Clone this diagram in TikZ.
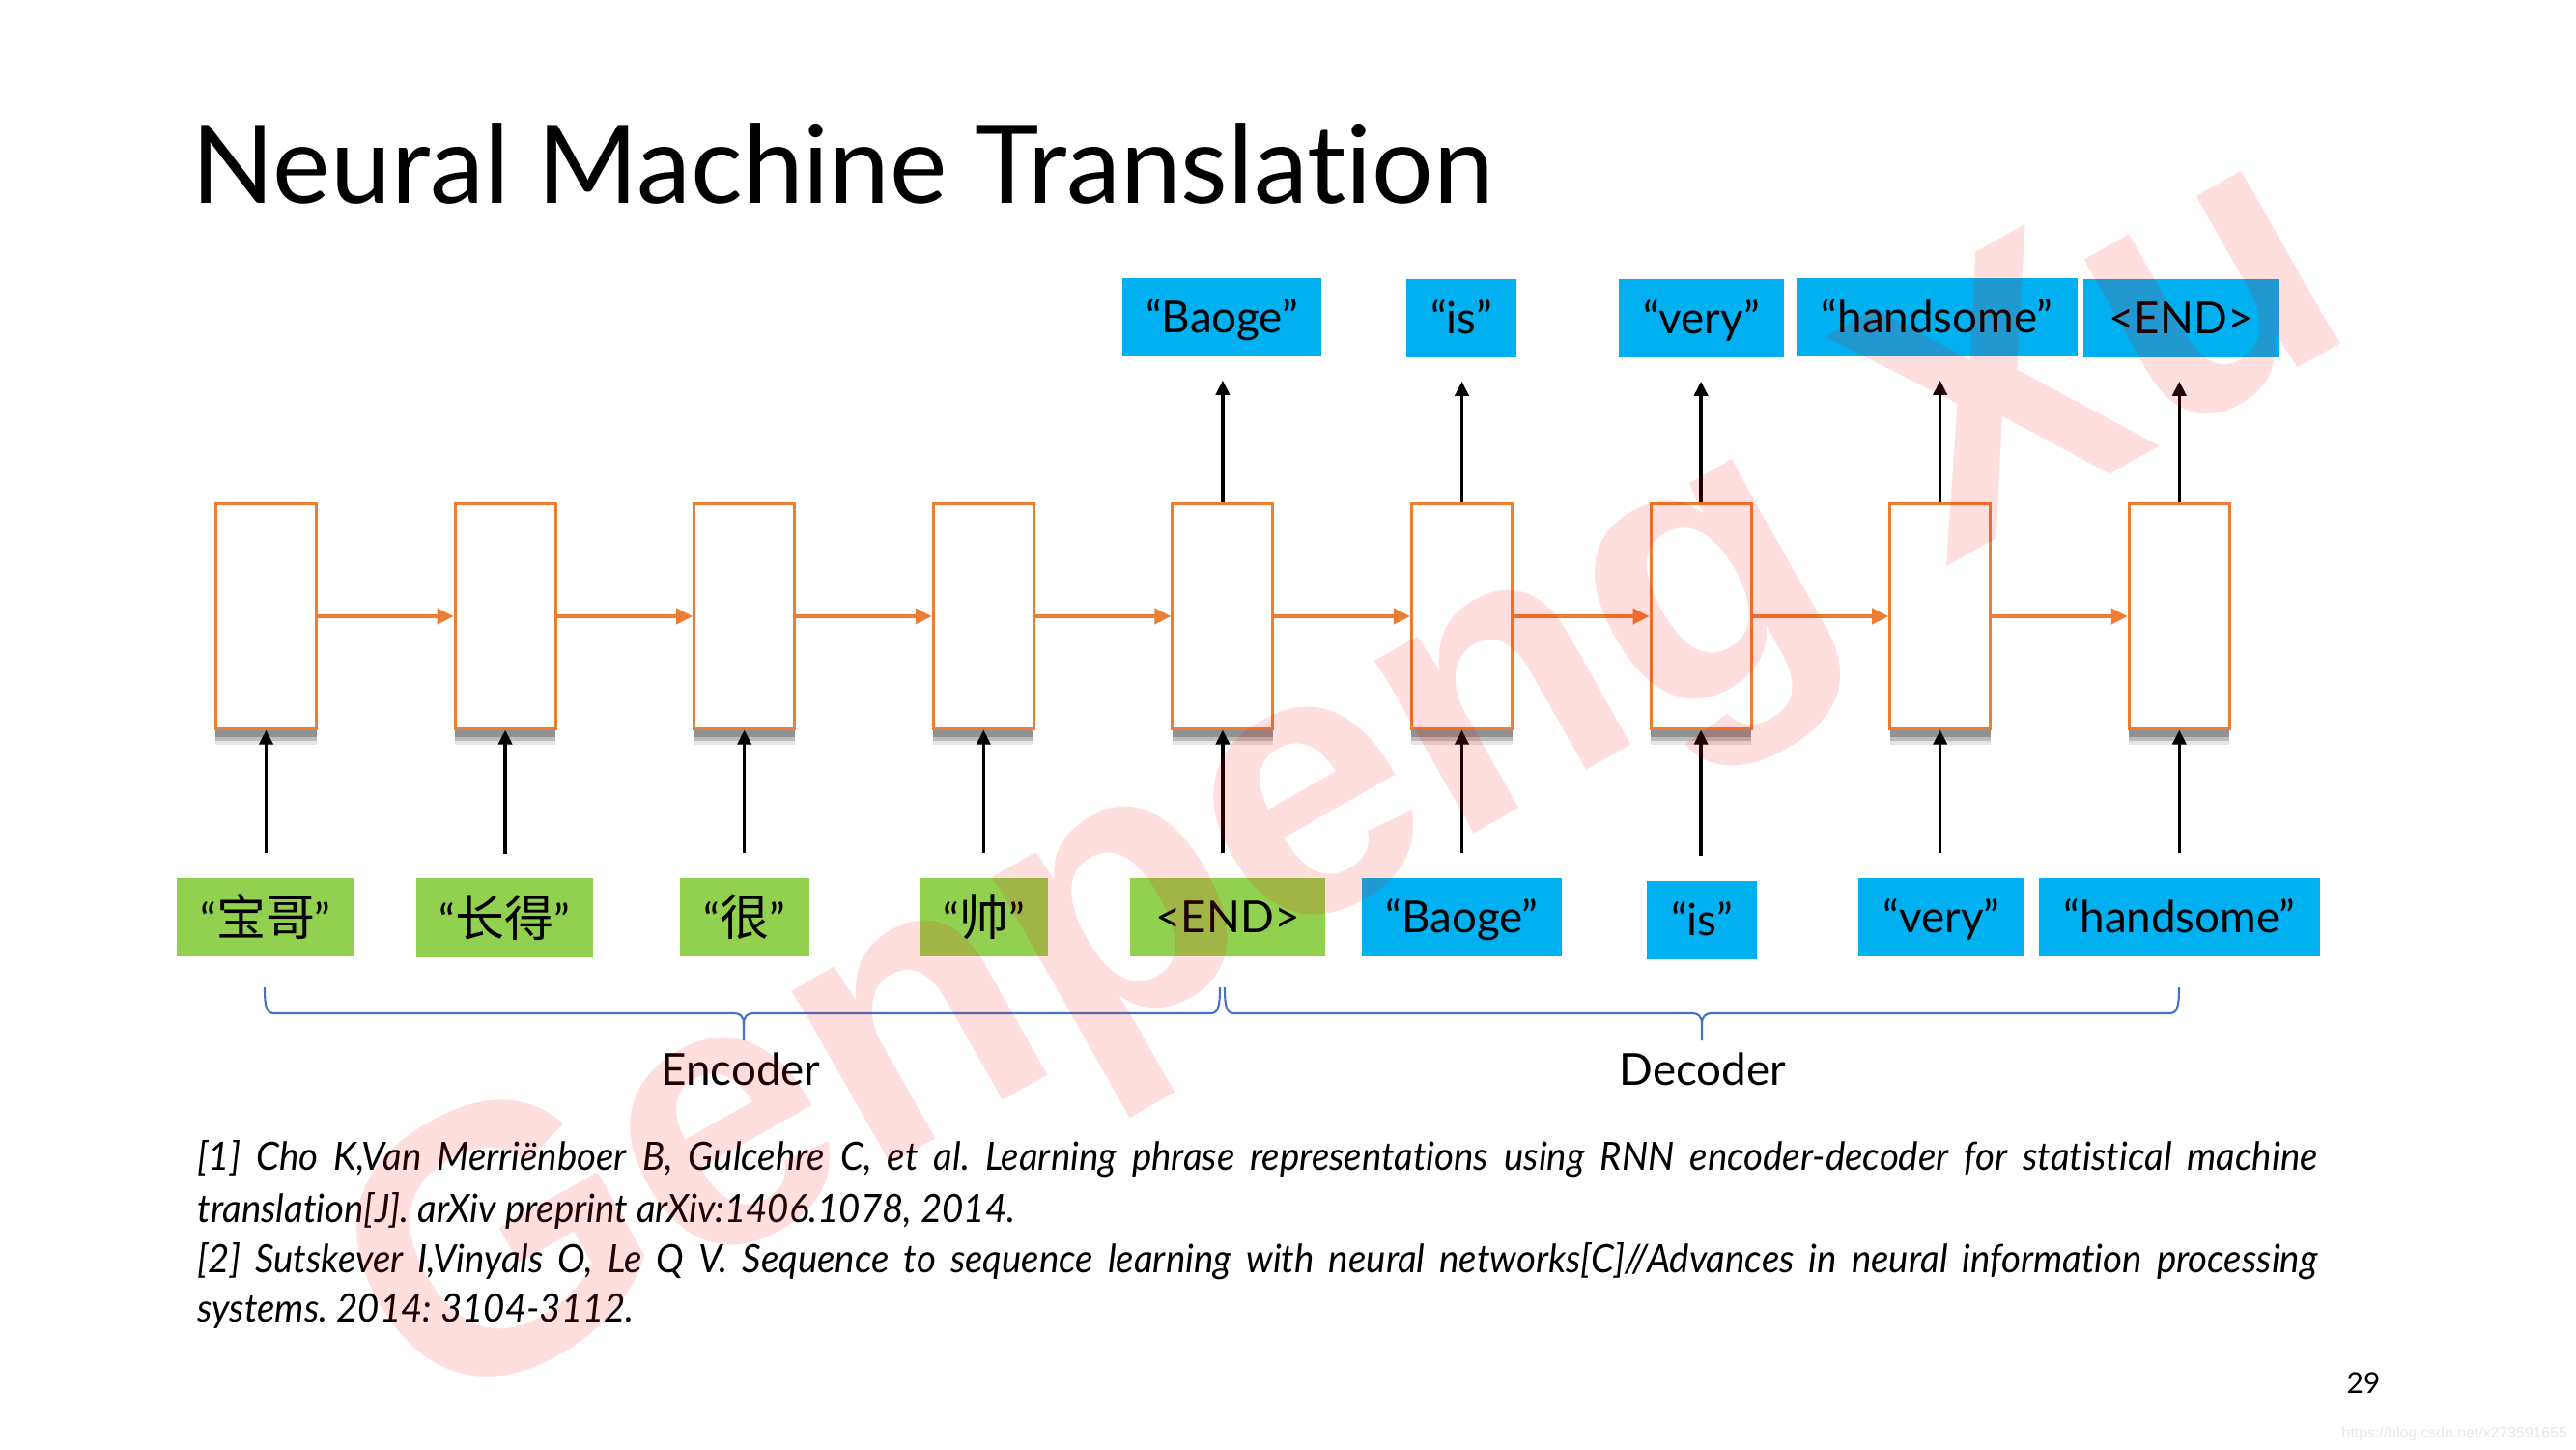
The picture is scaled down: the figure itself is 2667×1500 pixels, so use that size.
\documentclass[tikz,border=0pt]{standalone}
\usepackage{fontspec}
\setmainfont{Lato}[Ligatures=NoCommon]
\newfontfamily\cjk{Noto Sans CJK SC}
\newfontfamily\wmfont{Liberation Sans}
\newfontfamily\reffont{Lato}[FakeStretch=0.95, Ligatures=NoCommon]
\usetikzlibrary{arrows.meta,shadows,calc}
\definecolor{cellorange}{HTML}{ED7D31}
\definecolor{wordblue}{HTML}{00B0F0}
\definecolor{wordgreen}{HTML}{92D050}
\definecolor{braceblue}{HTML}{4472C4}
\newcommand{\zh}[1]{{\cjk\fontsize{14.5}{16}\selectfont #1}}
\frenchspacing
\begin{document}
\begin{tikzpicture}[x=0.01cm,y=-0.01cm,
  cell/.style={draw=cellorange, line width=0.85pt, fill=white, minimum width=1.04cm,
    minimum height=2.32cm, inner sep=0pt,
    general shadow={shadow xshift=0cm, shadow yshift=-0.17cm, fill=black, opacity=0.10},
    general shadow={shadow xshift=0cm, shadow yshift=-0.13cm, fill=black, opacity=0.18},
    general shadow={shadow xshift=0cm, shadow yshift=-0.09cm, fill=black, opacity=0.22}},
  word/.style={inner sep=0pt, minimum height=0.81cm, text height=9.3pt, text depth=0pt,
    font=\fontsize{13}{15}\selectfont, text=black},
  outw/.style={word, fill=wordblue},
  inw/.style={word, fill=wordgreen},
  cjkw/.style={inw, text height=11pt},
  rnn/.style={draw=cellorange, line width=1.1pt, -{Triangle[length=0.17cm,width=0.16cm]}},
  io/.style={draw=black, line width=1pt, -{Triangle[length=0.15cm,width=0.14cm]}},
  brace/.style={draw=braceblue, line width=0.6pt},
  lbl/.style={anchor=base, inner sep=0pt, font=\fontsize{13}{15}\selectfont},
  refline/.style={anchor=base west, inner sep=0pt, font=\reffont\itshape\fontsize{11.5}{14}\selectfont},
]
\fill[white] (0,0) rectangle (2667,1500);
\useasboundingbox (0,0) rectangle (2667,1500);

% title
\node[anchor=base west, inner sep=0pt, font=\fontsize{32}{38}\selectfont] (title) at (198,211) {Neural Machine Translation};

% RNN cells
\foreach \i in {1,...,9} {
  \node[cell] (c\i) at ({275.5+247.6*(\i-1)},638) {};
}

% output words
\node[outw, minimum width=2.06cm] (t1) at (1265,328.5) {“Baoge”};
\node[outw, minimum width=1.14cm] (t2) at (1513,329.5) {“is”};
\node[outw, minimum width=1.71cm] (t3) at (1761.5,329.5) {“very”};
\node[outw, minimum width=2.91cm] (t4) at (2005.5,328.5) {“handsome”};
\node[outw, minimum width=2.02cm] (t5) at (2258,329.5) {<END>};

% input words
\node[cjkw, minimum width=1.84cm] (b1) at (275,949.5) {“\zh{宝哥}”};
\node[cjkw, minimum width=1.83cm] (b2) at (522.5,950) {“\zh{长得}”};
\node[cjkw, minimum width=1.34cm] (b3) at (771,949.5) {“\zh{很}”};
\node[cjkw, minimum width=1.33cm] (b4) at (1018.5,949.5) {“\zh{帅}”};
\node[inw, minimum width=2.02cm] (b5) at (1271,949.5) {<END>};
\node[outw, minimum width=2.07cm] (b6) at (1513.5,949.5) {“Baoge”};
\node[outw, minimum width=1.14cm] (b7) at (1762,952.5) {“is”};
\node[outw, minimum width=1.72cm] (b8) at (2010,949.5) {“very”};
\node[outw, minimum width=2.91cm] (b9) at (2256.5,949.5) {“handsome”};

% recurrent arrows
\foreach \i [evaluate=\i as \j using int(\i+1)] in {1,...,8} {
  \draw[rnn] (c\i.east) -- (c\j.west);
}
% input arrows
\foreach \i in {1,...,9} {
  \draw[io, shorten <=0.25cm] (c\i.south |- b\i.north) -- (c\i.south);
}
% output arrows
\foreach \i/\t in {5/1,6/2,7/3,8/4,9/5} {
  \draw[io, shorten >=0.24cm] (c\i.north) -- (c\i.north |- t\t.south);
}

% braces
\draw[brace] (274,1022) .. controls (274,1043) and (276,1049) .. (284,1049) -- (760,1049)
  .. controls (766,1049) and (770,1052) .. (770,1060) -- (770,1077);
\draw[brace] (770,1060) .. controls (770,1052) and (774,1049) .. (780,1049) -- (1253,1049)
  .. controls (1261,1049) and (1263,1043) .. (1263,1022);
\draw[brace] (1268,1022) .. controls (1268,1043) and (1270,1049) .. (1278,1049) -- (1752,1049)
  .. controls (1758,1049) and (1762,1052) .. (1762,1060) -- (1762,1077);
\draw[brace] (1762,1060) .. controls (1762,1052) and (1766,1049) .. (1772,1049) -- (2246,1049)
  .. controls (2254,1049) and (2256,1043) .. (2256,1022);

\node[lbl] (enc) at (767,1123) {Encoder};
\node[lbl] (dec) at (1763,1123) {Decoder};

% references
\node[refline] (r1) at (204,1211) {\makebox[21.93cm][s]{[1] Cho K,Van Merriënboer B, Gulcehre C, et al. Learning phrase representations using RNN encoder-decoder for statistical machine}};
\node[refline] (r2) at (204,1265) {translation[J]. arXiv preprint arXiv:1406.1078, 2014.};
\node[refline] (r3) at (204,1317) {\makebox[21.93cm][s]{[2] Sutskever I,Vinyals O, Le Q V. Sequence to sequence learning with neural networks[C]//Advances in neural information processing}};
\node[refline] (r4) at (204,1368) {systems. 2014: 3104-3112.};

% page number and url
\node[inner sep=0pt, font=\fontsize{8.5}{10}\selectfont] (pg) at (2447,1432) {29};
\node[anchor=base west, inner sep=0pt, font=\wmfont\fontsize{4.5}{5}\selectfont, text=black!9] (url) at (2424,1488) {https://blog.csdn.net/x273591655};

% watermark
\node[anchor=base west, rotate=29.5, inner sep=0pt, font=\wmfont\bfseries\fontsize{111}{118}\selectfont,
  text=red, text opacity=0.13] (wm) at (445,1475) {Genpeng Xu};
\end{tikzpicture}
\end{document}
